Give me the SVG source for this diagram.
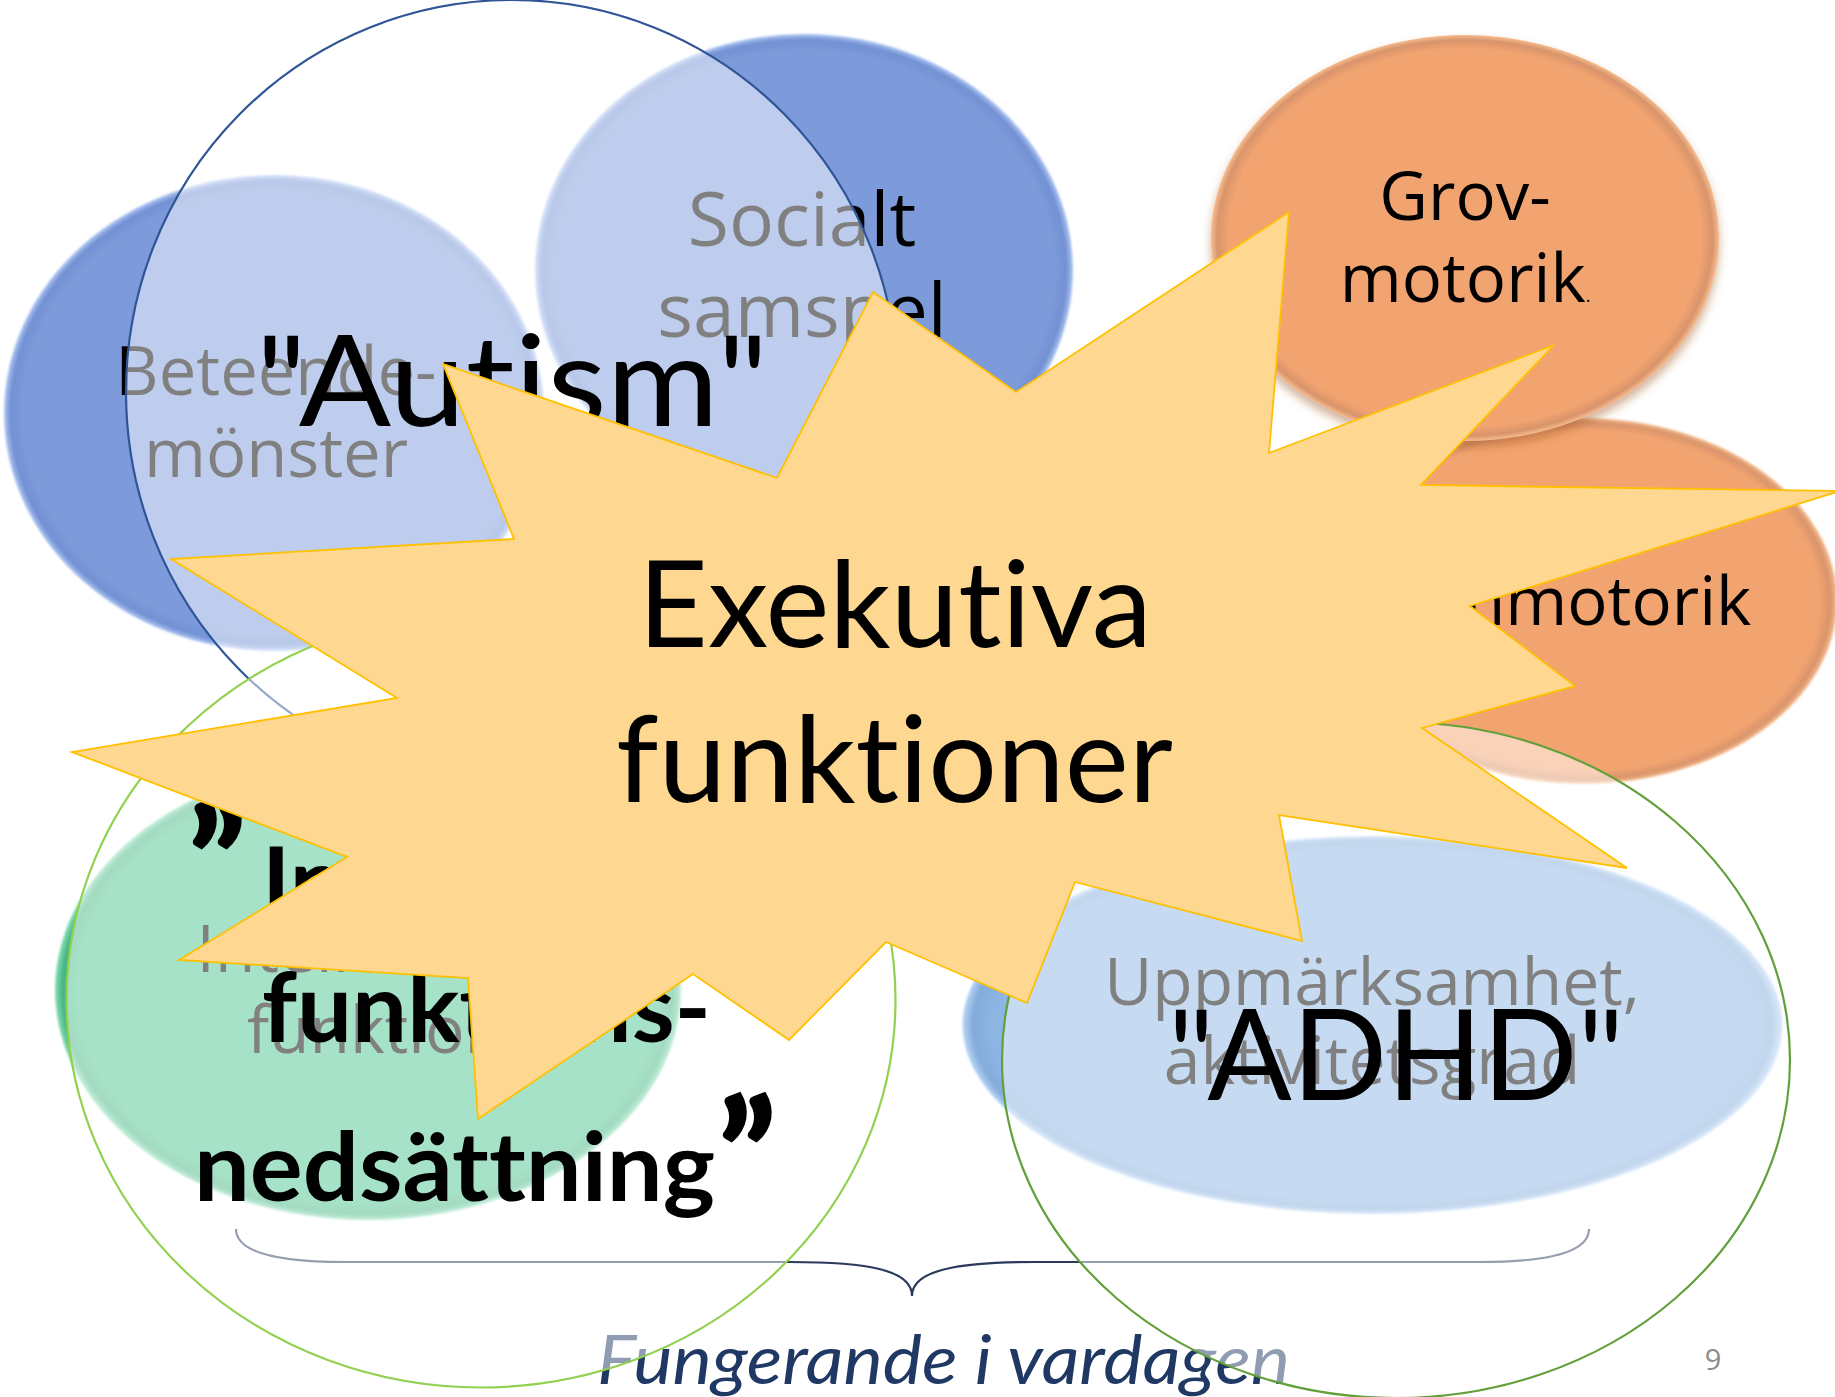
<svg xmlns="http://www.w3.org/2000/svg" width="1835" height="1397" viewBox="0 0 1835 1397">
<defs>
<radialGradient id="gBlue" cx="50%" cy="50%" r="50%">
<stop offset="0" stop-color="#7D9BDA"/><stop offset="0.93" stop-color="#7D9BDA"/><stop offset="0.975" stop-color="#7290D3"/><stop offset="1" stop-color="#AEC6F3"/>
</radialGradient>
<radialGradient id="gOrange" cx="50%" cy="50%" r="50%">
<stop offset="0" stop-color="#F2A470"/><stop offset="0.93" stop-color="#F2A470"/><stop offset="0.975" stop-color="#D9946B"/><stop offset="1" stop-color="#F6BC8E"/>
</radialGradient>
<radialGradient id="gGreen" cx="50%" cy="50%" r="50%">
<stop offset="0" stop-color="#4EC48E"/><stop offset="0.93" stop-color="#4EC48E"/><stop offset="0.975" stop-color="#45B582"/><stop offset="1" stop-color="#86DDB4"/>
</radialGradient>
<radialGradient id="gLight" cx="50%" cy="50%" r="50%">
<stop offset="0" stop-color="#8CB5E4"/><stop offset="0.93" stop-color="#8CB5E4"/><stop offset="0.975" stop-color="#84ABDB"/><stop offset="1" stop-color="#B8D6F6"/>
</radialGradient>
<filter id="soft" x="-5%" y="-5%" width="110%" height="110%"><feGaussianBlur stdDeviation="1.2"/></filter>
<filter id="shadow" x="-10%" y="-10%" width="120%" height="130%"><feDropShadow dx="0" dy="6" stdDeviation="5" flood-color="#9A4E1E" flood-opacity="0.45"/></filter>
</defs>
<style>
.seg{font-family:"Open Sans","Noto Sans",sans-serif;fill:#000;}
.cal{font-family:Lato,"Liberation Sans",sans-serif;fill:#000;font-variant-ligatures:none;font-feature-settings:"liga" 0,"clig" 0;}
.ov{fill:#fff;fill-opacity:0.5;stroke-width:2.2;}
.big{font-size:126px;}
.bold{font-size:96px;font-weight:700;}
.q{font-size:150px;font-weight:700;stroke:#000;stroke-width:3;}
</style>
<rect width="1835" height="1397" fill="#fff"/>

<g id="beteende">
<ellipse cx="274" cy="413" rx="270" ry="238" fill="url(#gBlue)" filter="url(#soft)"/>
<text class="seg" font-size="67" text-anchor="middle"><tspan x="276" y="395">Beteende-</tspan><tspan x="276" y="477">mönster</tspan></text>
</g>
<g id="socialt">
<ellipse cx="804" cy="270" rx="269" ry="236" fill="url(#gBlue)" filter="url(#soft)"/>
<text class="seg" font-size="75" text-anchor="middle"><tspan x="802" y="245.7">Socialt</tspan><tspan x="802" y="336.7">samspel</tspan></text>
</g>
<g id="finmotorik">
<ellipse cx="1583" cy="601" rx="254" ry="183" fill="url(#gOrange)" filter="url(#soft)"/>
<text class="seg" font-size="67" text-anchor="middle" x="1582" y="625">Finmotorik</text>
</g>
<g id="grovmotorik">
<ellipse cx="1465" cy="238" rx="254" ry="203" fill="url(#gOrange)" filter="url(#shadow)"/>
<text class="seg" font-size="67" text-anchor="middle"><tspan x="1465" y="220">Grov-</tspan><tspan x="1465" y="302">motorik<tspan font-size="18">.</tspan></tspan></text>
</g>
<g id="intellektuell">
<ellipse cx="368" cy="990" rx="313" ry="230" fill="url(#gGreen)" filter="url(#soft)"/>
<text class="seg" font-size="66" text-anchor="middle"><tspan x="376" y="971.7">Intellektuell</tspan><tspan x="376" y="1053">funktion</tspan></text>
</g>
<g id="uppmarksamhet">
<ellipse cx="1372.5" cy="1025" rx="410" ry="189" fill="url(#gLight)" filter="url(#soft)"/>
<text class="seg" font-size="66" text-anchor="middle"><tspan x="1372" y="1005">Uppmärksamhet,</tspan><tspan x="1372" y="1083.5">aktivitetsgrad</tspan></text>
</g>

<g id="brace">
<path d="M236,1229 C236,1250 268,1262 345,1262 L790,1262 C868,1262 912,1270 912,1296 C912,1270 958,1262 1036,1262 L1480,1262 C1557,1262 1589,1250 1589,1229" fill="none" stroke="#2B3A5C" stroke-width="2.2"/>
<text class="cal" font-style="italic" font-size="68" x="597" y="1383.5" textLength="693" lengthAdjust="spacingAndGlyphs" style="fill:#1F3864">Fungerande i vardagen</text>
</g>

<g id="autism">
<ellipse cx="512" cy="392" rx="386" ry="392" class="ov" stroke="#2F5597"/>
<text class="cal big" x="256" y="426" textLength="512" lengthAdjust="spacingAndGlyphs">"Autism"</text>
</g>
<g id="intellektuell-funktionsnedsattning">
<ellipse cx="481" cy="1000" rx="414.5" ry="387.5" class="ov" stroke="#92D050"/>
<text class="cal q" x="188" y="916">”</text>
<text class="cal bold" x="262" y="916">Intellektuell</text>
<text class="cal bold" x="262" y="1041.7" textLength="449" lengthAdjust="spacingAndGlyphs">funktions-</text>
<text class="cal bold" x="194" y="1200.7" textLength="521" lengthAdjust="spacingAndGlyphs">nedsättning</text>
<text class="cal q" x="718" y="1209">”</text>
</g>
<g id="adhd">
<ellipse cx="1396" cy="1060" rx="394" ry="338" class="ov" stroke="#62A03A"/>
<text class="cal big" x="1168" y="1100" textLength="456" lengthAdjust="spacingAndGlyphs">"ADHD"</text>
</g>

<g id="exekutiva">
<polygon points="1289,212 1269,453 1554,345 1421,485 1840,491 1470,606 1575,686 1422,728 1627,868 1279,815 1302,941 1075,882 1027,1003 886,942 789,1040 693,974 478,1119 468,978 179,960 347,857 72,752 397,698 171,559 514,539 443,364 777,478 873,292 1016,392" fill="#FED790" stroke="#FFC000" stroke-width="1.8" stroke-linejoin="miter"/>
<text class="cal" font-size="121" x="638" y="647" textLength="514" lengthAdjust="spacingAndGlyphs">Exekutiva</text>
<text class="cal" font-size="121" x="616" y="801.7" textLength="557" lengthAdjust="spacingAndGlyphs">funktioner</text>
</g>

<text class="seg" font-size="29" text-anchor="middle" x="1713" y="1370" style="fill:#8C8C8C">9</text>
</svg>
